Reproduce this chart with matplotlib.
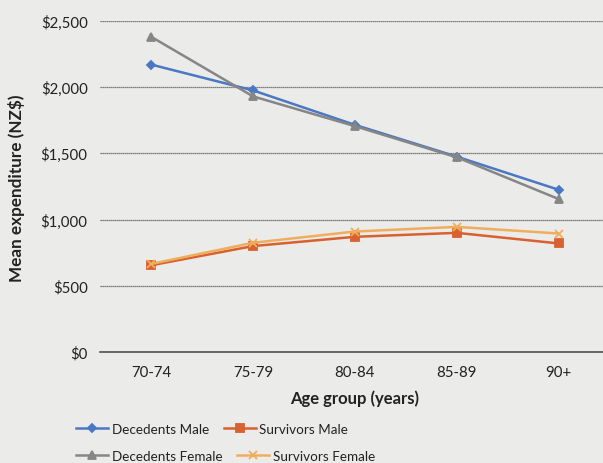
import matplotlib.pyplot as plt
from matplotlib.ticker import FuncFormatter

plt.rcParams['font.family'] = ['Lato', 'DejaVu Sans']

age_groups = ['70-74', '75-79', '80-84', '85-89', '90+']
decedents_male = [2170, 1975, 1715, 1475, 1225]
survivors_male = [655, 800, 870, 900, 820]
decedents_female = [2380, 1930, 1705, 1470, 1155]
survivors_female = [665, 825, 910, 945, 895]

bg = '#ebebea'
txt = '#222222'

fig = plt.figure(figsize=(6.03, 4.64), dpi=100, facecolor=bg)
ax = fig.add_axes([0.166, 0.239, 0.845, 0.714])
ax.set_facecolor(bg)

x = range(len(age_groups))
series = [
    ('Decedents Male', decedents_male, '#4a78c4', 'D', 4.5),
    ('Survivors Male', survivors_male, '#d9602f', 's', 5.5),
    ('Decedents Female', decedents_female, '#868686', '^', 6),
    ('Survivors Female', survivors_female, '#efae5c', 'x', 5.5),
]
handles = []
for label, vals, col, mk, ms in series:
    h, = ax.plot(x, vals, color=col, marker=mk, markersize=ms, lw=1.8,
                 markeredgewidth=1.3, label=label, zorder=3)
    handles.append(h)

ax.set_xlim(-0.5, 4.5)
ax.set_ylim(0, 2500)
ax.set_yticks(range(0, 2501, 500))
ax.yaxis.set_major_formatter(FuncFormatter(lambda v, p: f'${v:,.0f}'))
ax.set_xticks(list(x))
ax.set_xticklabels(age_groups)

ax.grid(axis='y', color='#5a5a5a', lw=0.9, ls=(0, (1, 0.6)), zorder=1)
for s in ['top', 'right', 'left']:
    ax.spines[s].set_visible(False)
ax.spines['bottom'].set_color('#505050')
ax.spines['bottom'].set_linewidth(1.2)
ax.tick_params(length=0, labelsize=10.8, colors=txt)
ax.tick_params(axis='y', pad=9)
ax.tick_params(axis='x', pad=9)

ax.set_xlabel('Age group (years)', fontsize=12, fontweight='bold', color=txt, labelpad=8)
fig.text(0.028, 0.595, 'Mean expenditure (NZ$)', rotation=90, fontsize=12.3,
         fontweight='bold', color=txt, ha='center', va='center')

# two single-row legends so each row keeps its own spacing
leg_kw = dict(ncol=2, frameon=False, fontsize=9.7, handlelength=2.4,
              handletextpad=0.25, columnspacing=1.1, labelcolor=txt,
              borderaxespad=0, borderpad=0)
fig.legend(handles=[handles[0], handles[1]], loc='center left',
           bbox_to_anchor=(0.126, 0.073), **leg_kw)
fig.legend(handles=[handles[2], handles[3]], loc='center left',
           bbox_to_anchor=(0.126, 0.015), **leg_kw)

fig.savefig('out.png', dpi=100, facecolor=bg)
